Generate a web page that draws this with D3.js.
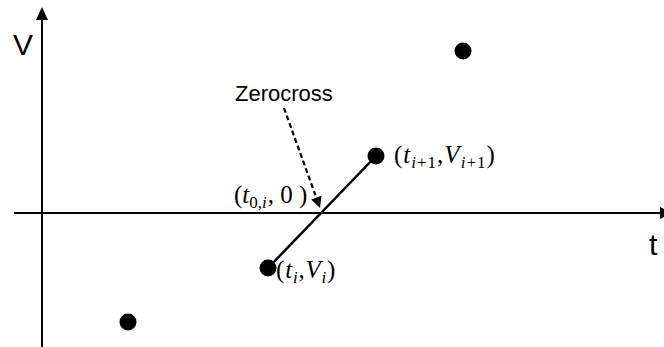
<!DOCTYPE html>
<html>
<head>
<meta charset="utf-8">
<script src="https://cdn.jsdelivr.net/npm/d3@7"></script>
<style>
  html, body { margin: 0; padding: 0; background: #fff; }
  svg { display: block; }
</style>
</head>
<body>
<svg id="chart" width="664" height="347"></svg>
<script>
// Sampled signal: time t and voltage V
const tValues = [86, 226, 334, 421];
const vValues = [-109, -55, 57, 162];
// Index of the sample pair that brackets the zero crossing
const crossIndex = 1;

const W = 664, H = 347;
const svg = d3.select("#chart");

const x = d3.scaleLinear().domain([-28, 622]).range([14, 664]);
const y = d3.scaleLinear().domain([-134, 206]).range([347, 7]);

const ink = "#000";

// Axes with arrowheads
const x0 = x(0), y0 = y(0);
svg.append("line").attr("x1", x(-28)).attr("x2", 660).attr("y1", y0).attr("y2", y0)
  .attr("stroke", ink).attr("stroke-width", 2);
svg.append("path").attr("d", `M660,${y0 - 6}L672,${y0}L660,${y0 + 6}Z`).attr("fill", ink);

svg.append("line").attr("x1", x0).attr("x2", x0).attr("y1", H).attr("y2", 20)
  .attr("stroke", ink).attr("stroke-width", 2);
svg.append("path").attr("d", `M${x0 - 6},20L${x0},7L${x0 + 6},20Z`).attr("fill", ink);

svg.append("text").attr("x", 13).attr("y", 55).text("V")
  .attr("font-family", "Liberation Sans, Arial, sans-serif").attr("font-size", 30);
svg.append("text").attr("x", 649).attr("y", 255).text("t")
  .attr("font-family", "Liberation Sans, Arial, sans-serif").attr("font-size", 30);

// Linear interpolation between the bracketing samples
const a = crossIndex, b = crossIndex + 1;
svg.append("line")
  .attr("x1", x(tValues[a])).attr("y1", y(vValues[a]))
  .attr("x2", x(tValues[b])).attr("y2", y(vValues[b]))
  .attr("stroke", ink).attr("stroke-width", 2.5);

const tZero = tValues[a] - vValues[a] * (tValues[b] - tValues[a]) / (vValues[b] - vValues[a]);

// Sample points
svg.selectAll("circle.pt").data(tValues).join("circle")
  .attr("class", "pt")
  .attr("cx", d => x(d))
  .attr("cy", (d, i) => y(vValues[i]))
  .attr("r", 8.5)
  .attr("fill", ink);

// Zerocross annotation with dashed arrow
svg.append("text").attr("x", 235).attr("y", 101).text("Zerocross")
  .attr("font-family", "Liberation Sans, Arial, sans-serif").attr("font-size", 22);

const tipX = x(tZero) - 1, tipY = y0 - 5;
const startX = 284, startY = 108;
const ang = Math.atan2(tipY - startY, tipX - startX);
const hl = 11, hw = 5.5;
const bx = tipX - hl * Math.cos(ang), by = tipY - hl * Math.sin(ang);
svg.append("line").attr("x1", startX).attr("y1", startY).attr("x2", bx).attr("y2", by)
  .attr("stroke", ink).attr("stroke-width", 2.2).attr("stroke-dasharray", "5,3");
svg.append("path")
  .attr("d", `M${tipX},${tipY}L${bx - hw * Math.sin(ang)},${by + hw * Math.cos(ang)}L${bx + hw * Math.sin(ang)},${by - hw * Math.cos(ang)}Z`)
  .attr("fill", ink);

// Math labels: main runs and subscript runs
const mathFont = "Liberation Serif, 'DejaVu Serif', serif";
const subShift = 5;
function mathLabel(px, py, parts, spacing) {
  const t = svg.append("text").attr("x", px).attr("y", py)
    .attr("font-family", mathFont).attr("font-size", 25)
    .attr("letter-spacing", spacing);
  let level = 0;
  parts.forEach(p => {
    const target = p.sub ? subShift : 0;
    const s = t.append("tspan").text(p.s).attr("dy", target - level);
    level = target;
    if (p.it) s.attr("font-style", "italic");
    if (p.sub) s.attr("font-size", 17);
    if (p.gap) s.attr("dx", p.gap);
  });
}
mathLabel(234, 203, [
  { s: "(" }, { s: "t", it: true }, { s: "0,", sub: true }, { s: "i", sub: true, it: true },
  { s: ", 0 )", gap: 1 }
], 0);
mathLabel(394, 163, [
  { s: "(" }, { s: "t", it: true }, { s: "i", sub: true, it: true }, { s: "+1", sub: true },
  { s: "," }, { s: "V", it: true }, { s: "i", sub: true, it: true }, { s: "+1", sub: true }, { s: ")" }
], 1);
mathLabel(276, 278, [
  { s: "(" }, { s: "t", it: true }, { s: "i", sub: true, it: true }, { s: "," },
  { s: "V", it: true }, { s: "i", sub: true, it: true }, { s: ")" }
], 0.8);
</script>
</body>
</html>
